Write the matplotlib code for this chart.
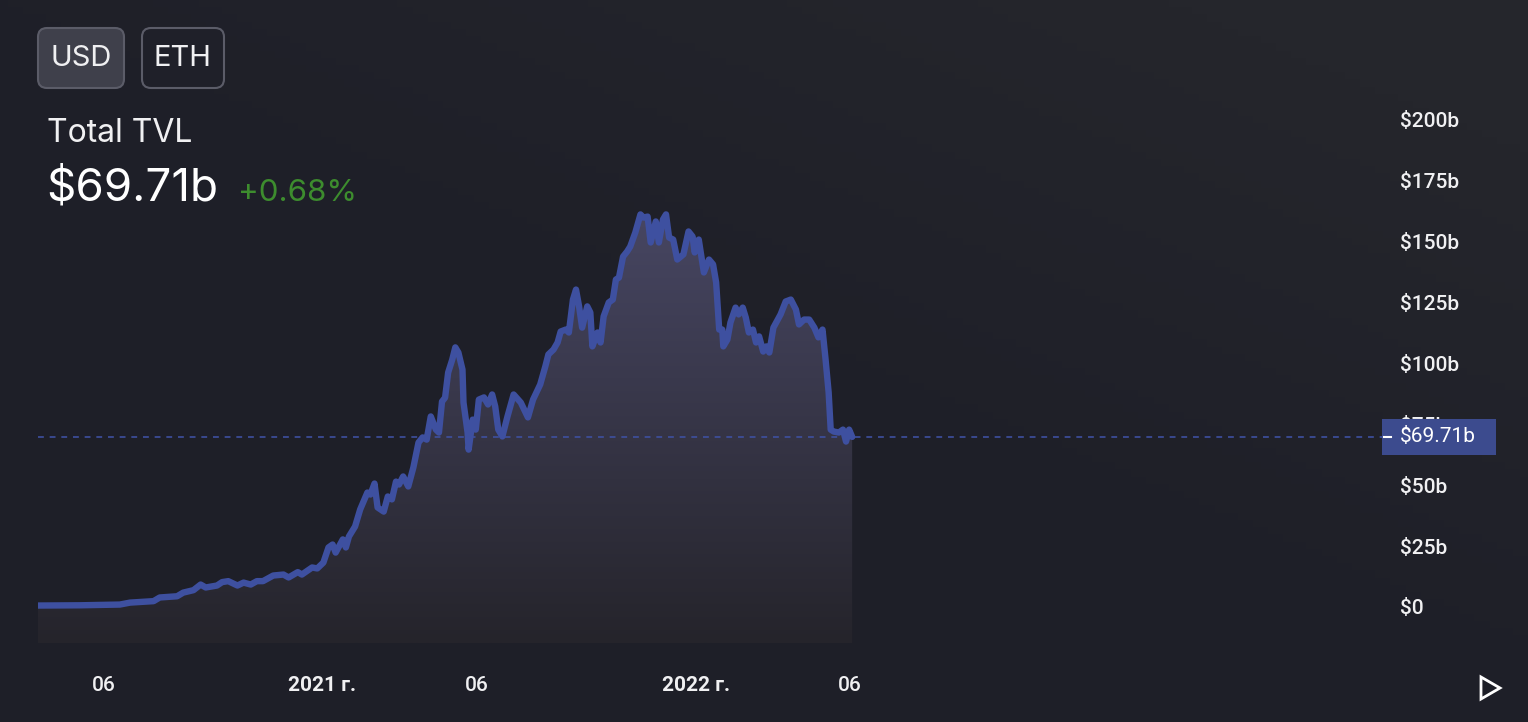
import numpy as np
import pandas as pd
import matplotlib
matplotlib.use("Agg")
import matplotlib.pyplot as plt
from matplotlib.patches import FancyBboxPatch, Polygon, Rectangle

# total TVL in $ billions
dates = [
    "2020-03-29", "2020-05-09", "2020-06-17", "2020-06-27", "2020-07-20", "2020-07-26",
    "2020-08-12", "2020-08-18", "2020-08-28", "2020-09-04", "2020-09-09", "2020-09-20",
    "2020-09-25", "2020-10-01", "2020-10-10", "2020-10-16", "2020-10-23", "2020-10-29",
    "2020-11-04", "2020-11-14", "2020-11-24", "2020-11-29", "2020-12-08", "2020-12-12",
    "2020-12-22", "2020-12-27", "2021-01-02", "2021-01-07", "2021-01-11", "2021-01-14",
    "2021-01-21", "2021-01-24", "2021-01-27", "2021-02-02", "2021-02-07", "2021-02-14",
    "2021-02-17", "2021-02-21", "2021-02-24", "2021-03-02", "2021-03-06", "2021-03-10",
    "2021-03-14", "2021-03-17", "2021-03-21", "2021-03-26", "2021-03-31", "2021-04-05",
    "2021-04-09", "2021-04-13", "2021-04-17", "2021-04-22", "2021-04-25", "2021-04-28",
    "2021-05-01", "2021-05-04", "2021-05-08", "2021-05-11", "2021-05-14", "2021-05-18",
    "2021-05-19", "2021-05-23", "2021-05-24", "2021-05-28", "2021-05-31", "2021-06-03",
    "2021-06-08", "2021-06-12", "2021-06-16", "2021-06-19", "2021-06-22", "2021-06-26",
    "2021-07-01", "2021-07-07", "2021-07-14", "2021-07-21", "2021-07-26", "2021-08-02",
    "2021-08-07", "2021-08-10", "2021-08-15", "2021-08-19", "2021-08-22", "2021-08-27",
    "2021-08-30", "2021-09-03", "2021-09-06", "2021-09-09", "2021-09-12", "2021-09-17",
    "2021-09-20", "2021-09-22", "2021-09-27", "2021-09-30", "2021-10-03", "2021-10-08",
    "2021-10-12", "2021-10-15", "2021-10-18", "2021-10-22", "2021-10-26", "2021-10-29",
    "2021-11-03", "2021-11-08", "2021-11-11", "2021-11-15", "2021-11-18", "2021-11-23",
    "2021-11-26", "2021-11-30", "2021-12-03", "2021-12-06", "2021-12-10", "2021-12-14",
    "2021-12-20", "2021-12-25", "2021-12-29", "2021-12-31", "2022-01-04", "2022-01-09",
    "2022-01-14", "2022-01-18", "2022-01-21", "2022-01-24", "2022-01-27", "2022-01-28",
    "2022-02-01", "2022-02-04", "2022-02-09", "2022-02-12", "2022-02-16", "2022-02-19",
    "2022-02-22", "2022-02-26", "2022-03-01", "2022-03-04", "2022-03-08", "2022-03-11",
    "2022-03-14", "2022-03-18", "2022-03-25", "2022-03-30", "2022-04-04", "2022-04-09",
    "2022-04-12", "2022-04-17", "2022-04-22", "2022-04-27", "2022-05-01", "2022-05-05",
    "2022-05-08", "2022-05-11", "2022-05-13", "2022-05-16", "2022-05-21", "2022-05-25",
    "2022-05-28", "2022-05-31", "2022-06-03",
]
tvl = [
    0.6, 0.7, 1.0, 1.8, 2.4, 3.9,
    4.4, 5.9, 6.9, 9.2, 8.0, 8.8,
    10.2, 10.6, 8.8, 10.0, 9.2, 10.6,
    10.6, 12.9, 13.3, 12.1, 14.3, 13.3,
    16.2, 15.8, 18.2, 24.4, 25.6, 22.3,
    27.7, 24.4, 28.9, 33.0, 40.0, 46.9,
    46.1, 50.6, 40.8, 39.1, 45.3, 44.1,
    51.4, 50.2, 53.5, 49.4, 57.2, 67.4,
    69.5, 68.6, 78.1, 72.7, 71.5, 84.2,
    85.8, 96.1, 101.4, 106.4, 104.3, 97.3,
    83.8, 71.5, 64.5, 76.8, 72.7, 85.0,
    85.9, 83.0, 87.1, 82.2, 72.7, 69.9,
    78.1, 87.1, 83.8, 77.7, 85.0, 91.2,
    98.6, 103.5, 105.5, 108.4, 112.9, 113.7,
    112.5, 126.0, 130.1, 123.2, 114.5, 123.2,
    120.7, 106.8, 112.5, 108.4, 119.1, 124.8,
    126.0, 134.2, 135.0, 143.6, 145.7, 147.7,
    153.5, 160.9, 159.6, 160.0, 149.4, 158.0,
    149.4, 158.8, 160.9, 151.4, 150.6, 142.4,
    144.5, 153.9, 151.8, 145.3, 150.6, 137.1,
    142.4, 140.4, 133.0, 113.7, 113.7, 106.8,
    109.6, 116.6, 122.7, 119.9, 122.7, 118.6,
    112.5, 113.7, 108.4, 110.9, 104.7, 106.8,
    104.3, 114.5, 119.9, 125.2, 126.0, 121.9,
    115.8, 117.8, 117.8, 114.5, 110.5, 113.7,
    101.4, 87.9, 72.7, 71.9, 71.5, 72.7,
    67.8, 72.7, 69.71,
]
current = 69.71
change_pct = "+0.68%"

y_ticks = [0, 25, 50, 75, 100, 125, 150, 175, 200]
y_labels = ["$0", "$25b", "$50b", "$75b", "$100b", "$125b", "$150b", "$175b", "$200b"]
x_ticks = ["2020-06-01", "2021-01-01", "2021-06-01", "2022-01-01", "2022-06-01"]
x_labels = ["06", "2021 г.", "06", "2022 г.", "06"]

BG = "#1f2029"
LINE = "#3e50a0"
TEXT = "#f0f0f2"

W, H = 1528, 722
fig = plt.figure(figsize=(W / 100, H / 100), dpi=100, facecolor=BG)

# faint glow towards the top right corner
bg = fig.add_axes([0, 0, 1, 1], zorder=-2)
gx, gy = np.meshgrid(np.linspace(0, 1, 200), np.linspace(0, 1, 100))
glow = np.clip((gx * 0.8 + gy * 0.9 - 0.8) * 1.4, 0, 1)
base = np.array([0x1e, 0x1f, 0x28]) / 255
light = np.array([0x25, 0x26, 0x2c]) / 255
img = base[None, None, :] * (1 - glow[..., None]) + light[None, None, :] * glow[..., None]
bg.imshow(img, aspect="auto", origin="lower", extent=[0, 1, 0, 1])
bg.axis("off")

x = pd.to_datetime(dates)
ax = fig.add_axes([38 / W, 1 - 643 / H, (1382 - 38) / W, (643 - 100) / H])
ax.set_facecolor("none")
ymin, ymax = -(643 - 607) / 2.44, (607 - 100) / 2.44
ax.set_xlim(pd.Timestamp("2020-03-29"), pd.Timestamp("2023-11-03"))
ax.set_ylim(ymin, ymax)

# gradient fill under the line
poly = ax.fill_between(x, tvl, ymin, color="none", lw=0)
top_c = np.array([0x47, 0x46, 0x62]) / 255
bot_c = np.array([0x25, 0x24, 0x2b]) / 255
t = np.linspace(0, 1, 256)[:, None]
grad = bot_c[None, None, :] * (1 - t[..., None]) + top_c[None, None, :] * t[..., None]
grad = np.repeat(grad, 2, axis=1)
xl = ax.get_xlim()
im = ax.imshow(grad, aspect="auto", origin="lower",
               extent=[xl[0], xl[1], ymin, max(tvl)], zorder=1)
im.set_clip_path(poly.get_paths()[0], transform=ax.transData)
ax.set_xlim(xl)
ax.set_ylim(ymin, ymax)

ax.plot(x, tvl, color=LINE, lw=4.6, solid_joinstyle="round", solid_capstyle="round", zorder=3)
ax.axhline(current, color=LINE, lw=1.2, dashes=(3.5, 3.5), zorder=2)

for s in ax.spines.values():
    s.set_visible(False)
ax.yaxis.tick_right()
ax.set_yticks(y_ticks)
ax.set_yticklabels(y_labels)
ax.set_xticks(pd.to_datetime(x_ticks))
ax.set_xticklabels(x_labels)
ax.tick_params(length=0, colors=TEXT, labelsize=15)
ax.tick_params(axis="y", pad=13)
ax.tick_params(axis="x", pad=24)
for lab in ax.get_xticklabels() + ax.get_yticklabels():
    lab.set_family(["Roboto", "DejaVu Sans"])
    lab.set_fontweight("medium")
for lab, txt in zip(ax.get_xticklabels(), x_labels):
    if "г." in txt:
        lab.set_fontweight("semibold")

# overlay in pixel coordinates for header, price label and play button
ov = fig.add_axes([0, 0, 1, 1], zorder=5)
ov.set_xlim(0, W)
ov.set_ylim(H, 0)
ov.axis("off")
ov.patch.set_alpha(0)

ov.add_patch(FancyBboxPatch((38, 28), 86, 60, boxstyle="round,pad=0,rounding_size=9",
                            fc="#3f404b", ec="#5b5c68", lw=1.5))
ov.add_patch(FancyBboxPatch((142, 28), 82, 60, boxstyle="round,pad=0,rounding_size=9",
                            fc=BG, ec="#5b5c68", lw=1.5))
hfont = ["Inter", "DejaVu Sans"]
ov.text(81, 59, "USD", color=TEXT, fontsize=21, ha="center", va="center", family=hfont)
ov.text(183, 59, "ETH", color=TEXT, fontsize=21, ha="center", va="center", family=hfont)
ov.text(47, 133, "Total TVL", color=TEXT, fontsize=23, ha="left", va="center", family=hfont)
ov.text(46, 188, f"${current:.2f}b", color="#ffffff", fontsize=33, ha="left", va="center",
        family=hfont)
ov.text(238, 193, change_pct, color="#3d8c2e", fontsize=22.5, ha="left", va="center",
        family=hfont)

ov.add_patch(Rectangle((1382, 419), 114, 36, fc="#3c4b8e", ec="none"))
ov.plot([1384, 1391], [437, 437], color="#ffffff", lw=1.5)
ov.text(1400, 437, f"${current:.2f}b", color="#ffffff", fontsize=15, ha="left", va="center",
        family=["Roboto", "DejaVu Sans"])

ov.add_patch(Polygon([(1481, 677), (1481, 699), (1500, 688)], closed=True,
                     fc="none", ec="#ffffff", lw=2, joinstyle="miter"))

fig.savefig("out.png", dpi=100, facecolor=BG)
